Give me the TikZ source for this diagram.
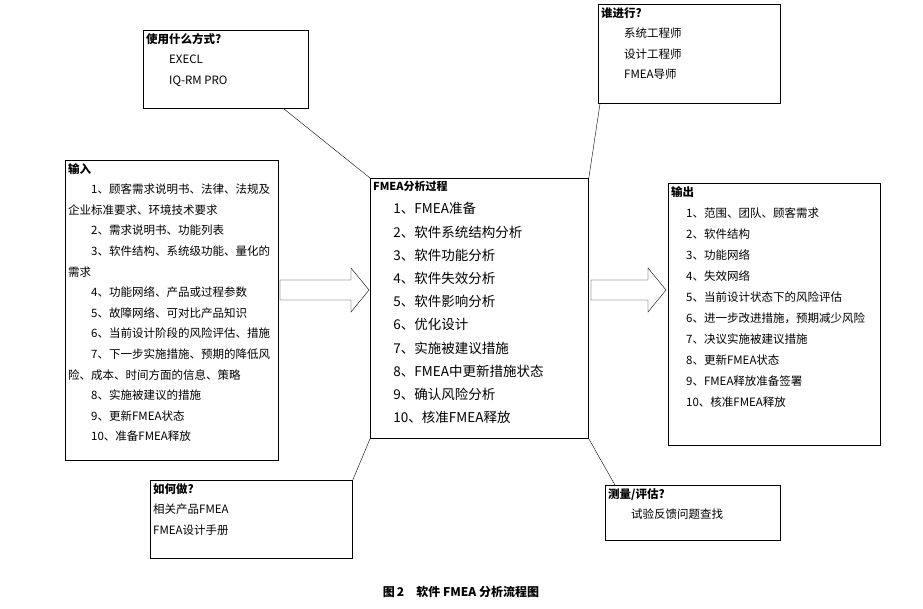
\documentclass[tikz,border=0pt]{standalone}
\usepackage{fontspec}
\setmainfont{Liberation Serif}
\newfontfamily\cjk{Noto Sans CJK SC}
\usetikzlibrary{calc,arrows,positioning}

\begin{document}
\begin{tikzpicture}
  [x=1pt,y=-1pt,>=latex]

% define styles
\tikzstyle{panel} = [draw, thick, rectangle, anchor=north west, inner sep=0pt];
\tikzstyle{txt} = [anchor=north west, align=left, inner sep=3pt,
  font=\cjk\fontsize{11.5}{20.6}\selectfont];
\tikzstyle{fat} = [draw, thin, fill=white];

% define new commands
\newcommand{\hollowArrow}[2]{
  \draw[fat] ($(#1)+(0,-10)$) -- ($(#2)+(-18,-10)$) -- ($(#2)+(-18,-22)$) -- (#2)
    -- ($(#2)+(-18,22)$) -- ($(#2)+(-18,10)$) -- ($(#1)+(0,10)$) -- cycle;
}

\useasboundingbox (0,0) rectangle (923,608);

% draw boxes
\node[panel, minimum width=165pt, minimum height=78pt] (how) at (143,30) {};
\node[txt] (howtxt) at (how.north west)
  {\textbf{使用什么方式?}\\\hspace*{2em}EXECL\\\hspace*{2em}IQ-RM PRO};
\node[panel, minimum width=182pt, minimum height=99pt] (who) at (598,4) {};
\node[txt] (whotxt) at (who.north west)
  {\textbf{谁进行?}\\\hspace*{2em}系统工程师\\\hspace*{2em}设计工程师\\\hspace*{2em}FMEA导师};
\node[panel, minimum width=213pt, minimum height=300pt] (in) at (65,160) {};
\node[txt] (intxt) at (in.north west)
  {\textbf{输入}\\
  \hspace*{2em}1、顾客需求说明书、法律、法规及\\企业标准要求、环境技术要求\\
  \hspace*{2em}2、需求说明书、功能列表\\
  \hspace*{2em}3、软件结构、系统级功能、量化的\\需求\\
  \hspace*{2em}4、功能网络、产品或过程参数\\
  \hspace*{2em}5、故障网络、可对比产品知识\\
  \hspace*{2em}6、当前设计阶段的风险评估、措施\\
  \hspace*{2em}7、下一步实施措施、预期的降低风\\险、成本、时间方面的信息、策略\\
  \hspace*{2em}8、实施被建议的措施\\
  \hspace*{2em}9、更新FMEA状态\\
  \hspace*{2em}10、准备FMEA释放};
\node[panel, minimum width=218pt, minimum height=260pt] (proc) at (370,178) {};
\node[txt, font=\cjk\fontsize{13.5}{23.2}\selectfont] (proctxt) at (proc.north west)
  {\textbf{\fontsize{11}{13}\selectfont FMEA分析过程}\\
  \hspace*{1.5em}1、FMEA准备\\
  \hspace*{1.5em}2、软件系统结构分析\\
  \hspace*{1.5em}3、软件功能分析\\
  \hspace*{1.5em}4、软件失效分析\\
  \hspace*{1.5em}5、软件影响分析\\
  \hspace*{1.5em}6、优化设计\\
  \hspace*{1.5em}7、实施被建议措施\\
  \hspace*{1.5em}8、FMEA中更新措施状态\\
  \hspace*{1.5em}9、确认风险分析\\
  \hspace*{1.5em}10、核准FMEA释放};
\node[panel, minimum width=212pt, minimum height=262pt] (out) at (668,183) {};
\node[txt, font=\cjk\fontsize{11.5}{21}\selectfont] (outtxt) at (out.north west)
  {\textbf{输出}\\
  \hspace*{1.3em}1、范围、团队、顾客需求\\
  \hspace*{1.3em}2、软件结构\\
  \hspace*{1.3em}3、功能网络\\
  \hspace*{1.3em}4、失效网络\\
  \hspace*{1.3em}5、当前设计状态下的风险评估\\
  \hspace*{1.3em}6、进一步改进措施，预期减少风险\\
  \hspace*{1.3em}7、决议实施被建议措施\\
  \hspace*{1.3em}8、更新FMEA状态\\
  \hspace*{1.3em}9、FMEA释放准备签署\\
  \hspace*{1.3em}10、核准FMEA释放};
\node[panel, minimum width=202pt, minimum height=78pt] (do) at (150,480) {};
\node[txt] (dotxt) at (do.north west)
  {\textbf{如何做?}\\相关产品FMEA\\FMEA设计手册};
\node[panel, minimum width=175pt, minimum height=55pt] (meas) at (605,485) {};
\node[txt] (meastxt) at (meas.north west)
  {\textbf{测量/评估?}\\\hspace*{2em}试验反馈问题查找};

% draw hollow arrows
\coordinate (a1s) at (280,290);
\coordinate (a1e) at (369,290);
\coordinate (a2s) at (591,290);
\coordinate (a2e) at (666,290);
\hollowArrow{a1s}{a1e}
\hollowArrow{a2s}{a2e}

% draw connecting lines
\draw (proc.north west) -- ([xshift=-25pt] how.south east);
\draw (proc.north east) -- ([xshift=2pt] who.south west);
\draw (proc.south west) -- (do.north east);
\draw (proc.south east) -- ([xshift=10pt] meas.north west);

% caption
\node[font=\cjk\bfseries\fontsize{12}{14}\selectfont] (cap) at (461,592)
  {图\,2\quad 软件 FMEA 分析流程图};

\end{tikzpicture}
\end{document}
